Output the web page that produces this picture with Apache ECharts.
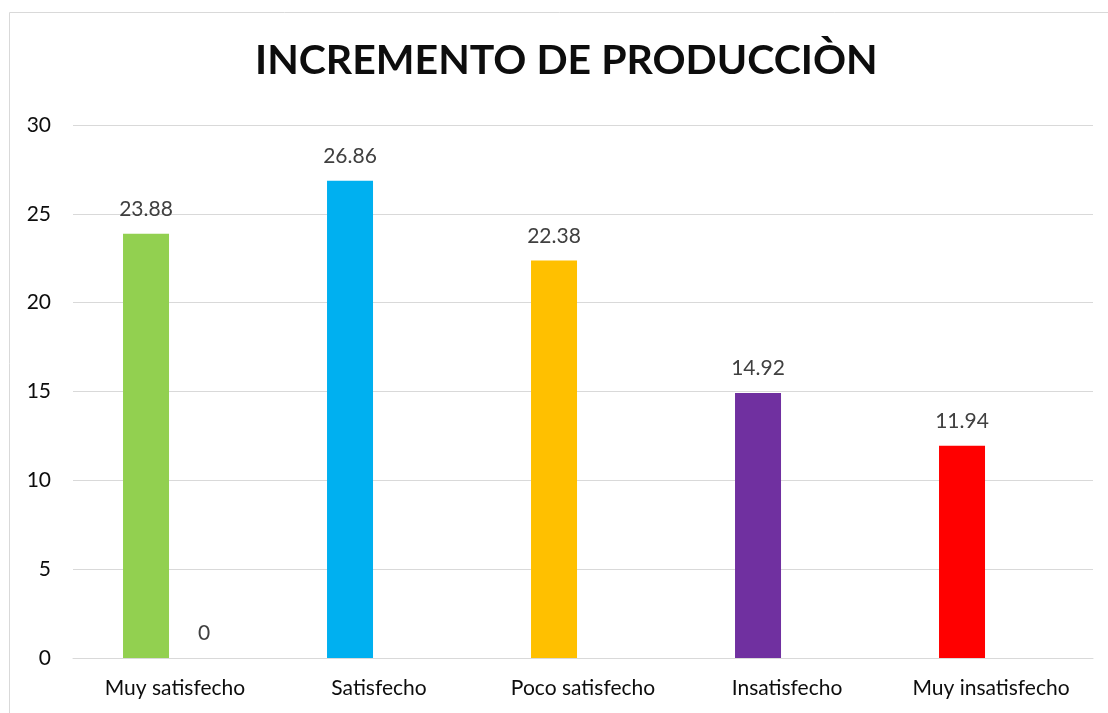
<!DOCTYPE html>
<html>
<head>
<meta charset="utf-8">
<script src="https://cdn.jsdelivr.net/npm/echarts@6/dist/echarts.min.js"></script>
<style>
  html, body { margin: 0; padding: 0; background: #fff; }
  #chart { width: 1108px; height: 713px; }
</style>
</head>
<body>
<div id="chart"></div>
<script>
const categories = ['Muy satisfecho', 'Satisfecho', 'Poco satisfecho', 'Insatisfecho', 'Muy insatisfecho']
const percentValues = [23.88, 26.86, 22.38, 14.92, 11.94]
const extraValues = [0, '-', '-', '-', '-']
const barColors = ['#92d050', '#00b0f0', '#ffc000', '#7030a0', '#ff0000']
const yTicks = { min: 0, max: 30, interval: 5 }

const font = 'Lato, "Open Sans", sans-serif'
const c = echarts.init(document.getElementById('chart'))
c.setOption({
  animation: false,
  title: {
    text: 'INCREMENTO DE PRODUCCIÒN', left: 250, top: 35,
    textStyle: { fontFamily: font, fontWeight: 'bold', fontSize: 41, color: '#0d0d0d' }
  },
  graphic: [{
    type: 'rect', shape: { x: 9.5, y: 12.5, width: 1200, height: 800 },
    style: { fill: 'none', stroke: '#d9d9d9', lineWidth: 1 }, silent: true
  }],
  grid: { left: 73, right: 15, top: 125, bottom: 55 },
  xAxis: {
    type: 'category', data: categories,
    axisLine: { lineStyle: { color: '#d9d9d9' } },
    axisTick: { show: false },
    axisLabel: { interval: 0, hideOverlap: false, margin: 20, fontFamily: font, fontSize: 21, color: '#0d0d0d' }
  },
  yAxis: {
    type: 'value', min: yTicks.min, max: yTicks.max, interval: yTicks.interval,
    splitLine: { lineStyle: { color: '#d9d9d9' } },
    axisLabel: { margin: 22, fontFamily: font, fontSize: 21, color: '#0d0d0d' }
  },
  series: [{
    type: 'bar', barWidth: 46, barGap: '26%',
    data: percentValues.map((v, i) => ({ value: v, itemStyle: { color: barColors[i] } })),
    label: { show: true, position: 'top', distance: 14, fontFamily: font, fontSize: 21, color: '#404040' }
  }, {
    type: 'bar', barWidth: 46,
    data: extraValues,
    label: { show: true, position: 'top', distance: 14, fontFamily: font, fontSize: 21, color: '#404040' }
  }]
})
</script>
</body>
</html>
